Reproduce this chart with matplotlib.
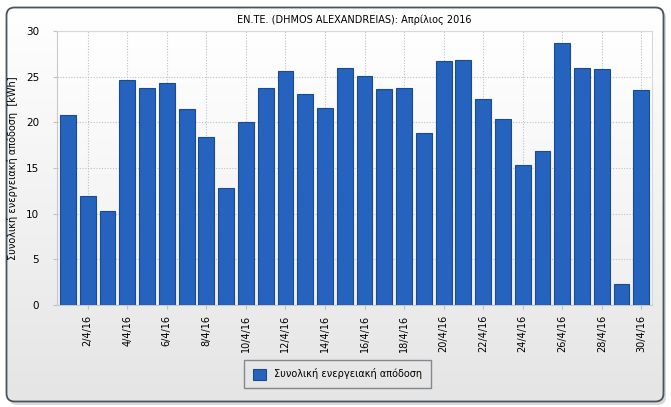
import numpy as np
import matplotlib
matplotlib.use("Agg")
import matplotlib.pyplot as plt
from matplotlib.patches import FancyBboxPatch, Rectangle

title = "EN.TE. (DHMOS ALEXANDREIAS): Απρίλιος 2016"
ylabel = "Συνολική ενεργειακή απόδοση  [kWh]"
series_name = "Συνολική ενεργειακή απόδοση"
days = list(range(1, 31))
values = [20.8, 11.9, 10.3, 24.6, 23.8, 24.3, 21.5, 18.4, 12.8, 20.0,
          23.8, 25.6, 23.1, 21.6, 25.9, 25.1, 23.6, 23.8, 18.8, 26.7,
          26.8, 22.6, 20.4, 15.3, 16.9, 28.7, 26.0, 25.8, 2.3, 23.5]
tick_days = list(range(2, 31, 2))
tick_labels = [f"{d}/4/16" for d in tick_days]
yticks = [0, 5, 10, 15, 20, 25, 30]

plt.rcParams['font.family'] = ['DejaVu Sans']
W, H = 671, 407
fig = plt.figure(figsize=(W/100, H/100), dpi=100)
fig.patch.set_facecolor('white')

# background panel with gradient
bg = fig.add_axes([0, 0, 1, 1], zorder=-10)
bg.set_xlim(0, W); bg.set_ylim(H, 0); bg.axis('off')
# shadow
sh = FancyBboxPatch((9, 10), 657, 395, boxstyle="round,pad=0,rounding_size=8",
                    facecolor='#c0c0c0', edgecolor='none', alpha=0.6)
bg.add_patch(sh)
panel = FancyBboxPatch((6.5, 7.5), 657, 394, boxstyle="round,pad=0,rounding_size=8",
                       facecolor='none', edgecolor='#4a545c', linewidth=1.3, zorder=3)
bg.add_patch(panel)
grad = np.linspace(1.0, 0.0, 256).reshape(-1, 1)
top_c = np.array([1.0, 1.0, 1.0]); bot_c = np.array([0.898, 0.898, 0.898])
img = top_c * grad[..., None] + bot_c * (1 - grad[..., None])
im = bg.imshow(img, extent=(6.5, 663.5, 401.5, 7.5), aspect='auto', zorder=1)
clip = FancyBboxPatch((6.5, 7.5), 657, 394, boxstyle="round,pad=0,rounding_size=8",
                      transform=bg.transData, facecolor='none', edgecolor='none')
bg.add_patch(clip)
im.set_clip_path(clip)

ax = fig.add_axes([57.3/W, (H-305)/H, (652-57.3)/W, (305-31)/H])
ax.set_facecolor('none')
# plot area gradient
pg = np.linspace(1.0, 0.0, 256).reshape(-1, 1)
pimg = np.array([1, 1, 1]) * pg[..., None] + np.array([0.94, 0.94, 0.94]) * (1 - pg[..., None])
ax.imshow(pimg, extent=(0.46, 30.54, 0, 30), aspect='auto', zorder=0)

ax.bar(days, values, width=0.8, color='#2563BE', edgecolor='#1C4B8C', linewidth=0.8, zorder=3)
ax.set_xlim(0.46, 30.54)
ax.set_ylim(0, 30)
ax.set_yticks(yticks)
ax.set_xticks(tick_days)
ax.set_xticklabels(tick_labels, rotation=90, fontsize=7, color='black')
ax.tick_params(axis='y', labelsize=7.5, length=3, color='#c0c0c0', pad=10)
ax.tick_params(axis='x', length=3, color='#c0c0c0', pad=4)
ax.grid(True, color='#c0c0c0', linestyle=(0, (1, 1.5)), linewidth=0.8, zorder=1)
for s in ['left', 'bottom']:
    ax.spines[s].set_color('#c8c8c8')
ax.spines['top'].set_color('#d8d8d8')
ax.spines['right'].set_color('#d8d8d8')
ax.set_title(title, fontsize=7, pad=6)
ax.set_ylabel(ylabel, fontsize=7, labelpad=6)

handle = Rectangle((0, 0), 1, 1, facecolor='#2563BE', edgecolor='#1C4B8C', linewidth=0.8)
leg = fig.legend([handle], [series_name], loc='center', bbox_to_anchor=(337.5/W, (H-374)/H),
                 fontsize=7, frameon=True, fancybox=False, handlelength=1.3, handleheight=1.3,
                 borderpad=0.9, handletextpad=0.8)
leg.get_frame().set_edgecolor('#6a7278')
leg.get_frame().set_facecolor('none')
leg.get_frame().set_linewidth(1.0)

fig.savefig('out.png', dpi=100)
